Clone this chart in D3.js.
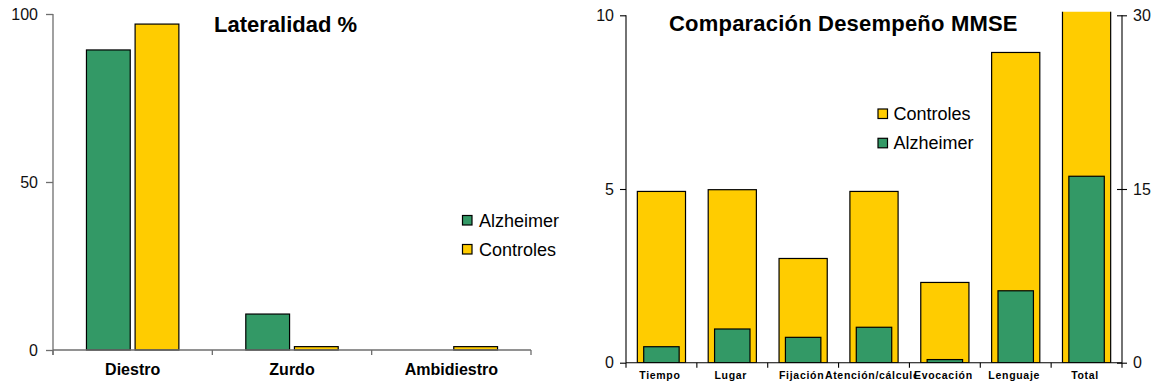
<!DOCTYPE html>
<html>
<head>
<meta charset="utf-8">
<script src="https://cdn.jsdelivr.net/npm/d3@7/dist/d3.min.js"></script>
<style>
  html, body { margin: 0; padding: 0; background: #fff; }
  svg { display: block; font-family: "Liberation Sans", Arial, sans-serif; }
</style>
</head>
<body>
<svg id="chart" width="1154" height="385"></svg>
<script>
// ---- Lateralidad (%) ----
const lateralidadCats = ["Diestro", "Zurdo", "Ambidiestro"];
const lateralidadAlzheimer = [89.3, 10.7, 0];
const lateralidadControles = [97, 1, 1];
const lateralidadTicks = [0, 50, 100];

// ---- MMSE sub-scores (Total on secondary axis) ----
const mmseCats = ["Tiempo", "Lugar", "Fijación", "Atención/cálculo", "Evocación", "Lenguaje", "Total"];
const mmseControles = [4.93, 4.98, 3.0, 4.93, 2.31, 8.93, 30.5];
const mmseAlzheimer = [0.46, 0.97, 0.73, 1.02, 0.09, 2.07, 16.1];
const mmseSecondaryCats = ["Total"];
const mmseTicks = [0, 5, 10];
const mmseTicks2 = [0, 15, 30];

const GREEN = "#339966", YELLOW = "#FFCC00";
const svg = d3.select("#chart");

// ================= Left chart =================
{
  const g = svg.append("g");
  const y = d3.scaleLinear().domain([0, 100]).range([350, 14]);
  const x = d3.scaleBand().domain(lateralidadCats).range([53, 531]);
  const sub = d3.scaleBand().domain(["Alzheimer", "Controles"])
    .range([x.bandwidth() * 0.21, x.bandwidth() * 0.79]).paddingInner(0.1);
  const axisColor = "#6e6e6e";

  const series = [
    { key: "Alzheimer", values: lateralidadAlzheimer, color: GREEN },
    { key: "Controles", values: lateralidadControles, color: YELLOW }
  ];
  series.forEach(s => {
    g.selectAll(null).data(lateralidadCats.map((c, i) => ({ c, v: s.values[i] })).filter(d => d.v > 0))
      .enter().append("rect")
      .attr("x", d => x(d.c) + sub(s.key))
      .attr("width", sub.bandwidth())
      .attr("y", d => y(d.v))
      .attr("height", d => y(0) - y(d.v))
      .attr("fill", s.color).attr("stroke", "#000").attr("stroke-width", 1.2);
  });

  // y axis
  const ya = g.append("g").attr("transform", "translate(53,0)")
    .call(d3.axisLeft(y).tickValues(lateralidadTicks).tickSize(7).tickPadding(8));
  ya.select(".domain").attr("d", `M0,${y(100)}V${y(0) + 5}`).attr("stroke", axisColor).attr("stroke-width", 1.3);
  ya.selectAll(".tick line").attr("stroke", axisColor).attr("stroke-width", 1.3);
  ya.selectAll(".tick text").attr("font-size", 16).attr("fill", "#111").attr("font-family", "Liberation Sans, Arial");

  // x axis with category boundaries
  const bounds = lateralidadCats.map(c => x(c)).concat([x.range()[1]]);
  g.append("line").attr("x1", 53).attr("x2", x.range()[1]).attr("y1", y(0)).attr("y2", y(0))
    .attr("stroke", axisColor).attr("stroke-width", 1.3);
  g.selectAll(null).data(bounds).enter().append("line")
    .attr("x1", d => d).attr("x2", d => d).attr("y1", y(0)).attr("y2", y(0) + 5)
    .attr("stroke", axisColor).attr("stroke-width", 1.3);
  g.selectAll(null).data(lateralidadCats).enter().append("text")
    .attr("x", d => x(d) + x.bandwidth() / 2).attr("y", 375)
    .attr("text-anchor", "middle").attr("font-weight", "bold").attr("font-size", 16)
    .text(d => d);

  g.append("text").attr("x", 214).attr("y", 31.5).attr("font-weight", "bold").attr("font-size", 22)
    .text("Lateralidad %");

  // legend
  const leg = g.append("g");
  series.forEach((s, i) => {
    const cy = 220 + i * 29;
    leg.append("rect").attr("x", 462.5).attr("y", cy - 4.5).attr("width", 9.5).attr("height", 9.5)
      .attr("fill", s.color).attr("stroke", "#000").attr("stroke-width", 1.2);
    leg.append("text").attr("x", 479).attr("y", cy + 6.5).attr("font-size", 18).text(s.key);
  });
}

// ================= Right chart =================
{
  const g = svg.append("g");
  const y = d3.scaleLinear().domain([0, 10]).range([362.7, 15.3]);
  const y2 = d3.scaleLinear().domain([0, 30]).range([362.7, 15.3]);
  const x = d3.scaleBand().domain(mmseCats).range([626, 1122]);
  const bw = x.bandwidth();
  const scaleFor = c => mmseSecondaryCats.includes(c) ? y2 : y;

  g.append("clipPath").attr("id", "plotClip").append("rect")
    .attr("x", 626).attr("y", y(10) - 3.6).attr("width", 496).attr("height", y(0) - y(10) + 3.6);
  const plot = g.append("g").attr("clip-path", "url(#plotClip)");

  const draw = (values, color, frac) => {
    plot.selectAll(null).data(mmseCats.map((c, i) => ({ c, v: values[i] })))
      .enter().append("rect")
      .attr("x", d => x(d.c) + bw * (1 - frac) / 2)
      .attr("width", bw * frac)
      .attr("y", d => scaleFor(d.c)(d.v))
      .attr("height", d => scaleFor(d.c)(0) - scaleFor(d.c)(d.v))
      .attr("fill", color).attr("stroke", "#000").attr("stroke-width", 1.2);
  };
  draw(mmseControles, YELLOW, 0.68);
  draw(mmseAlzheimer, GREEN, 0.5);

  // primary axis
  const ya = g.append("g").attr("transform", "translate(626,0)")
    .call(d3.axisLeft(y).tickValues(mmseTicks).tickSize(6).tickPadding(6));
  ya.select(".domain").attr("d", `M0,${y(10)}V${y(0)}`).attr("stroke", "#000").attr("stroke-width", 1.1);
  ya.selectAll(".tick line").attr("stroke", "#000").attr("stroke-width", 1.1);
  ya.selectAll(".tick text").attr("font-size", 16).attr("fill", "#111").attr("font-family", "Liberation Sans, Arial");

  // secondary axis (cross ticks)
  const yb = g.append("g").attr("transform", "translate(1122,0)")
    .call(d3.axisRight(y2).tickValues(mmseTicks2).tickSize(5).tickPadding(6));
  yb.select(".domain").attr("d", `M0,${y2(30)}V${y2(0)}`).attr("stroke", "#000").attr("stroke-width", 1.1);
  yb.selectAll(".tick line").attr("x1", -5).attr("stroke", "#000").attr("stroke-width", 1.1);
  yb.selectAll(".tick text").attr("font-size", 16).attr("fill", "#111").attr("font-family", "Liberation Sans, Arial");

  // x axis
  const bounds = mmseCats.map(c => x(c)).concat([x.range()[1]]);
  g.append("line").attr("x1", 626).attr("x2", 1122).attr("y1", y(0)).attr("y2", y(0))
    .attr("stroke", "#000").attr("stroke-width", 1.1);
  g.selectAll(null).data(bounds).enter().append("line")
    .attr("x1", d => d).attr("x2", d => d).attr("y1", y(0)).attr("y2", y(0) + 5)
    .attr("stroke", "#000").attr("stroke-width", 1.1);
  const labels = g.selectAll(null).data(mmseCats).enter().append("text")
    .attr("x", d => x(d) + bw / 2 - 1.5).attr("y", 378.5)
    .attr("text-anchor", "middle").attr("font-weight", "bold").attr("font-size", 10.5)
    .attr("letter-spacing", 0.7)
    .text(d => d);

  // a label wider than its slot is cut where the next label starts
  const nodes = labels.nodes();
  nodes.forEach((n, i) => {
    if (i === nodes.length - 1) return;
    const b = n.getBBox(), nb = nodes[i + 1].getBBox();
    if (b.width > bw && b.x + b.width > nb.x) {
      const id = "lblClip" + i;
      g.append("clipPath").attr("id", id).append("rect")
        .attr("x", b.x - 2).attr("y", b.y - 2).attr("width", nb.x + 2 - (b.x - 2)).attr("height", b.height + 4);
      d3.select(n).attr("clip-path", `url(#${id})`);
    }
  });

  g.append("text").attr("x", 669).attr("y", 30.5).attr("font-weight", "bold").attr("font-size", 22)
    .attr("letter-spacing", 0.2).text("Comparación Desempeño MMSE");

  // legend
  const legSeries = [{ key: "Controles", color: YELLOW }, { key: "Alzheimer", color: GREEN }];
  legSeries.forEach((s, i) => {
    const cy = 113.5 + i * 29.3;
    g.append("rect").attr("x", 878).attr("y", cy - 4.5).attr("width", 9.5).attr("height", 9.5)
      .attr("fill", s.color).attr("stroke", "#000").attr("stroke-width", 1.2);
    g.append("text").attr("x", 893.5).attr("y", cy + 6.5).attr("font-size", 18).text(s.key);
  });
}
</script>
</body>
</html>
